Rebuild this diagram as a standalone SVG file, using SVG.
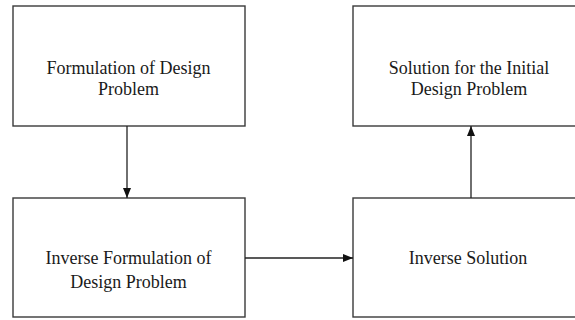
<svg xmlns="http://www.w3.org/2000/svg" width="575" height="320" viewBox="0 0 575 320">
<style>
.box{fill:#fff;stroke:#3a3a3a;stroke-width:1.4}
.lbl{font-family:"Liberation Serif","Times New Roman",serif;font-size:18px;fill:#1a1a1a;text-anchor:middle}
.edge{stroke:#222;stroke-width:1.3;fill:none}
</style>
<defs>
<marker id="ah" markerWidth="10" markerHeight="8" refX="10" refY="4" orient="auto" markerUnits="userSpaceOnUse">
<path d="M0,0 L10,4 L0,8 Z" fill="#111"/>
</marker>
</defs>
<rect width="575" height="320" fill="#fff"/>
<g id="n1"><rect class="box" x="13" y="6" width="232" height="120"/>
<text class="lbl" x="128.5" y="73.5">Formulation of Design</text>
<text class="lbl" x="128.5" y="94.5">Problem</text></g>
<g id="n2"><rect class="box" x="353" y="6" width="232" height="120"/>
<text class="lbl" x="469" y="74.3">Solution for the Initial</text>
<text class="lbl" x="469" y="95">Design Problem</text></g>
<g id="n3"><rect class="box" x="13" y="198" width="232" height="119"/>
<text class="lbl" x="128.5" y="264.3">Inverse Formulation of</text>
<text class="lbl" x="128.5" y="287.5">Design Problem</text></g>
<g id="n4"><rect class="box" x="353" y="198" width="232" height="119"/>
<text class="lbl" x="468" y="264">Inverse Solution</text></g>
<g id="edges">
<line class="edge" x1="127" y1="126" x2="127" y2="198" marker-end="url(#ah)"/>
<line class="edge" x1="245" y1="258" x2="353" y2="258" marker-end="url(#ah)"/>
<line class="edge" x1="471" y1="198" x2="471" y2="126" marker-end="url(#ah)"/>
</g>
</svg>
